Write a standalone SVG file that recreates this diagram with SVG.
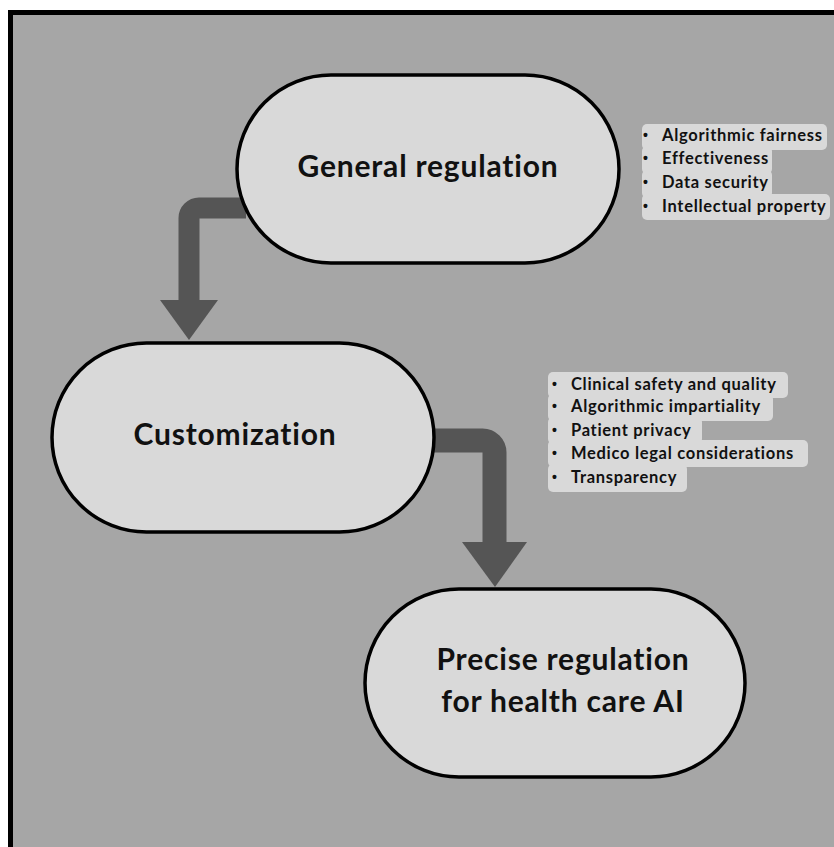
<svg xmlns="http://www.w3.org/2000/svg" width="834" height="847" viewBox="0 0 834 847">
<style>
.node{fill:#d9d9d9;stroke:#000;stroke-width:3.5}
.lbl{font-family:Lato,"Liberation Sans",sans-serif;font-weight:bold;font-size:30px;fill:#111;text-anchor:middle;letter-spacing:0.8px;font-variant-ligatures:none}
.conn{fill:none;stroke:#555;}
.head{fill:#555}
.bg{fill:#d9d9d9}
.li{font-family:Lato,"Liberation Sans",sans-serif;font-weight:bold;font-size:16.5px;fill:#111;letter-spacing:0.7px;font-variant-ligatures:none}
.bu{font-family:"Liberation Sans",sans-serif;font-size:14px;font-weight:bold;fill:#111}
</style>
<rect x="0" y="0" width="834" height="847" fill="#fff"/>
<rect x="10.5" y="12.5" width="840" height="850" fill="#a6a6a6" stroke="#000" stroke-width="5"/>
<g id="connectors">
<path class="conn" stroke-width="21" d="M246,208 H199 A10,10 0 0 0 189,218 V301"/>
<polygon class="head" points="160,300 218,300 189,340"/>
<path class="conn" stroke-width="24" d="M430,440.5 H482.5 A12,12 0 0 1 494.5,452.5 V543"/>
<polygon class="head" points="462,542 527,542 495,587"/>
</g>
<g id="general">
<rect class="node" x="237" y="75" width="382" height="188" rx="94" ry="94"/>
<text class="lbl" x="428" y="177">General regulation</text>
</g>
<g id="customization">
<rect class="node" x="52" y="343" width="382" height="189" rx="94.5" ry="94.5"/>
<text class="lbl" x="235" y="445">Customization</text>
</g>
<g id="precise">
<rect class="node" x="365" y="589" width="380" height="188" rx="94" ry="94"/>
<text class="lbl" x="563" y="670">Precise regulation</text>
<text class="lbl" x="563" y="712">for health care AI</text>
</g>
<g id="list1">
<rect class="bg" x="642" y="124" width="185" height="26" rx="5"/>
<rect class="bg" x="642" y="146" width="130" height="28" rx="5"/>
<rect class="bg" x="642" y="170" width="130" height="28" rx="5"/>
<rect class="bg" x="642" y="194" width="188" height="26" rx="5"/>
<text class="bu" x="643" y="140">•</text><text class="li" x="662" y="141">Algorithmic fairness</text>
<text class="bu" x="643" y="163">•</text><text class="li" x="662" y="164">Effectiveness</text>
<text class="bu" x="643" y="187">•</text><text class="li" x="662" y="188">Data security</text>
<text class="bu" x="643" y="211">•</text><text class="li" x="662" y="212">Intellectual property</text>
</g>
<g id="list2">
<rect class="bg" x="548" y="372" width="240" height="26" rx="5"/>
<rect class="bg" x="548" y="394" width="225" height="27" rx="5"/>
<rect class="bg" x="548" y="417" width="154" height="27" rx="5"/>
<rect class="bg" x="548" y="440" width="260" height="27" rx="5"/>
<rect class="bg" x="548" y="464" width="139" height="28" rx="5"/>
<text class="bu" x="552" y="389">•</text><text class="li" x="571" y="390">Clinical safety and quality</text>
<text class="bu" x="552" y="411">•</text><text class="li" x="571" y="412">Algorithmic impartiality</text>
<text class="bu" x="552" y="435">•</text><text class="li" x="571" y="436">Patient privacy</text>
<text class="bu" x="552" y="458">•</text><text class="li" x="571" y="459">Medico legal considerations</text>
<text class="bu" x="552" y="482">•</text><text class="li" x="571" y="483">Transparency</text>
</g>
</svg>
